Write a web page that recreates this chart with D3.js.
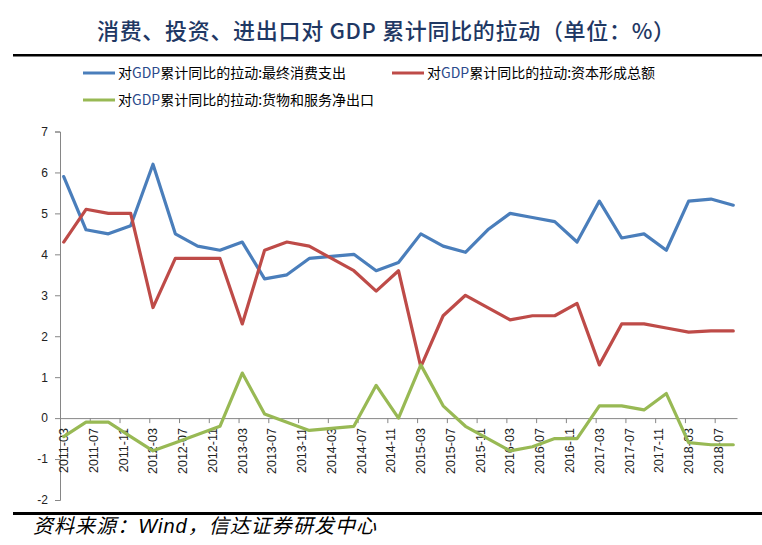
<!DOCTYPE html>
<html>
<head>
<meta charset="utf-8">
<script src="https://cdn.jsdelivr.net/npm/d3@7"></script>
<style>
  html, body { margin: 0; padding: 0; background: #fff; }
  svg { display: block; }
</style>
</head>
<body>
<svg id="chart" width="762" height="545"></svg>
<script>
// ---- data ----
const periods = ["2011-03","2011-06","2011-09","2011-12","2012-03","2012-06","2012-09","2012-12",
  "2013-03","2013-06","2013-09","2013-12","2014-03","2014-06","2014-09","2014-12",
  "2015-03","2015-06","2015-09","2015-12","2016-03","2016-06","2016-09","2016-12",
  "2017-03","2017-06","2017-09","2017-12","2018-03","2018-06","2018-09"];
const consumption = [5.9,4.6,4.5,4.7,6.2,4.5,4.2,4.1,4.3,3.4,3.5,3.9,3.95,4.0,3.6,3.8,
  4.5,4.2,4.05,4.6,5.0,4.9,4.8,4.3,5.3,4.4,4.5,4.1,5.3,5.35,5.2];
const investment = [4.3,5.1,5.0,5.0,2.7,3.9,3.9,3.9,2.3,4.1,4.3,4.2,3.9,3.6,3.1,3.6,
  1.25,2.5,3.0,2.7,2.4,2.5,2.5,2.8,1.3,2.3,2.3,2.2,2.1,2.13,2.13];
const netExports = [-0.45,-0.1,-0.1,-0.45,-0.8,-0.6,-0.4,-0.2,1.1,0.1,-0.1,-0.3,-0.25,-0.2,0.8,0.0,
  1.3,0.3,-0.2,-0.5,-0.8,-0.7,-0.5,-0.5,0.3,0.3,0.2,0.6,-0.6,-0.65,-0.65];
const seriesNames = ["对GDP累计同比的拉动:最终消费支出","对GDP累计同比的拉动:资本形成总额","对GDP累计同比的拉动:货物和服务净出口"];
const xTickLabels = ["2011-03","2011-07","2011-11","2012-03","2012-07","2012-11","2013-03","2013-07",
  "2013-11","2014-03","2014-07","2014-11","2015-03","2015-07","2015-11","2016-03","2016-07","2016-11",
  "2017-03","2017-07","2017-11","2018-03","2018-07"];
const yTicks = [-2,-1,0,1,2,3,4,5,6,7];
const titleText = "消费、投资、进出口对 GDP 累计同比的拉动（单位：%）";
const sourceText = "资料来源：Wind，信达证券研发中心";

// ---- layout ----
const svg = d3.select("#chart");
const colors = ["#4A7EBB", "#BE4B48", "#98B954"];
const monthIdx = s => { const [yy, m] = s.split("-").map(Number); return (yy - 2011) * 12 + (m - 3); };

const x = d3.scaleLinear().domain([0, 91]).range([60, 737]);
const y = d3.scaleLinear().domain([-2, 7]).range([500, 131.5]);

// title
svg.append("text")
  .attr("x", 97).attr("y", 39)
  .attr("textLength", 578).attr("lengthAdjust", "spacing")
  .attr("font-family", "'Noto Sans CJK SC', sans-serif")
  .attr("font-size", 22)
  .attr("font-weight", 500)
  .attr("fill", "#1F3864")
  .text(titleText);

// rules
svg.append("rect").attr("x", 13).attr("y", 54).attr("width", 749).attr("height", 2.5).attr("fill", "#000");
svg.append("rect").attr("x", 13).attr("y", 512).attr("width", 749).attr("height", 3).attr("fill", "#000");

// legend
const legendPos = [[83, 73], [392, 73], [83, 100]];
seriesNames.forEach((name, i) => {
  const [lx, ly] = legendPos[i];
  svg.append("line").attr("x1", lx).attr("x2", lx + 32).attr("y1", ly).attr("y2", ly)
    .attr("stroke", colors[i]).attr("stroke-width", 3);
  const t = svg.append("text").attr("x", lx + 35).attr("y", ly + 5)
    .attr("font-family", "'Noto Sans CJK SC', sans-serif").attr("font-size", 14).attr("fill", "#000");
  const parts = name.split("GDP");
  t.append("tspan").text(parts[0]);
  t.append("tspan").attr("fill", "#2B4A8C").text("GDP");
  t.append("tspan").text(parts[1]);
});

// y axis
const yAxis = d3.axisLeft(y).tickValues(yTicks).tickSize(5).tickPadding(7).tickFormat(d => String(d));
const gy = svg.append("g").attr("transform", "translate(60,0)").call(yAxis);
gy.select(".domain").attr("stroke", "#868686");
gy.selectAll(".tick line").attr("stroke", "#868686");
gy.selectAll(".tick text").attr("font-family", "'Liberation Sans', Arial, sans-serif")
  .attr("font-size", 12).attr("fill", "#222");

// x axis at zero
const xTickVals = xTickLabels.map(monthIdx);
const xAxis = d3.axisBottom(x).tickValues(xTickVals).tickSize(5).tickFormat("").tickSizeOuter(0);
const gx = svg.append("g").attr("transform", `translate(0,${y(0)})`).call(xAxis);
gx.select(".domain").attr("stroke", "#868686");
gx.selectAll(".tick line").attr("stroke", "#868686");

// x labels (rotated)
svg.append("g").selectAll("text").data(xTickLabels).join("text")
  .attr("transform", d => `translate(${x(monthIdx(d) + 0.5)},${y(0) + 10}) rotate(-90)`)
  .attr("text-anchor", "end")
  .attr("dy", "0.35em")
  .attr("font-family", "'Liberation Sans', Arial, sans-serif")
  .attr("font-size", 12.5)
  .attr("fill", "#222")
  .text(d => d);

// lines
const allSeries = [consumption, investment, netExports];
const line = d3.line().x((d, i) => x(monthIdx(periods[i]) + 0.5)).y(d => y(d));
allSeries.forEach((s, i) => {
  svg.append("path").datum(s).attr("d", line)
    .attr("fill", "none").attr("stroke", colors[i]).attr("stroke-width", 3.2)
    .attr("stroke-linejoin", "round").attr("stroke-linecap", "round");
});

// source
const src = svg.append("text").attr("x", 33).attr("y", 533)
  .attr("textLength", 343).attr("lengthAdjust", "spacing")
  .attr("font-family", "'Noto Sans CJK SC', sans-serif").attr("font-size", 20)
  .attr("font-style", "italic").attr("fill", "#000");
const sp = sourceText.split("Wind");
src.append("tspan").text(sp[0]);
src.append("tspan").attr("font-family", "'Liberation Sans', Arial, sans-serif").text("Wind");
src.append("tspan").text(sp[1]);
</script>
</body>
</html>
